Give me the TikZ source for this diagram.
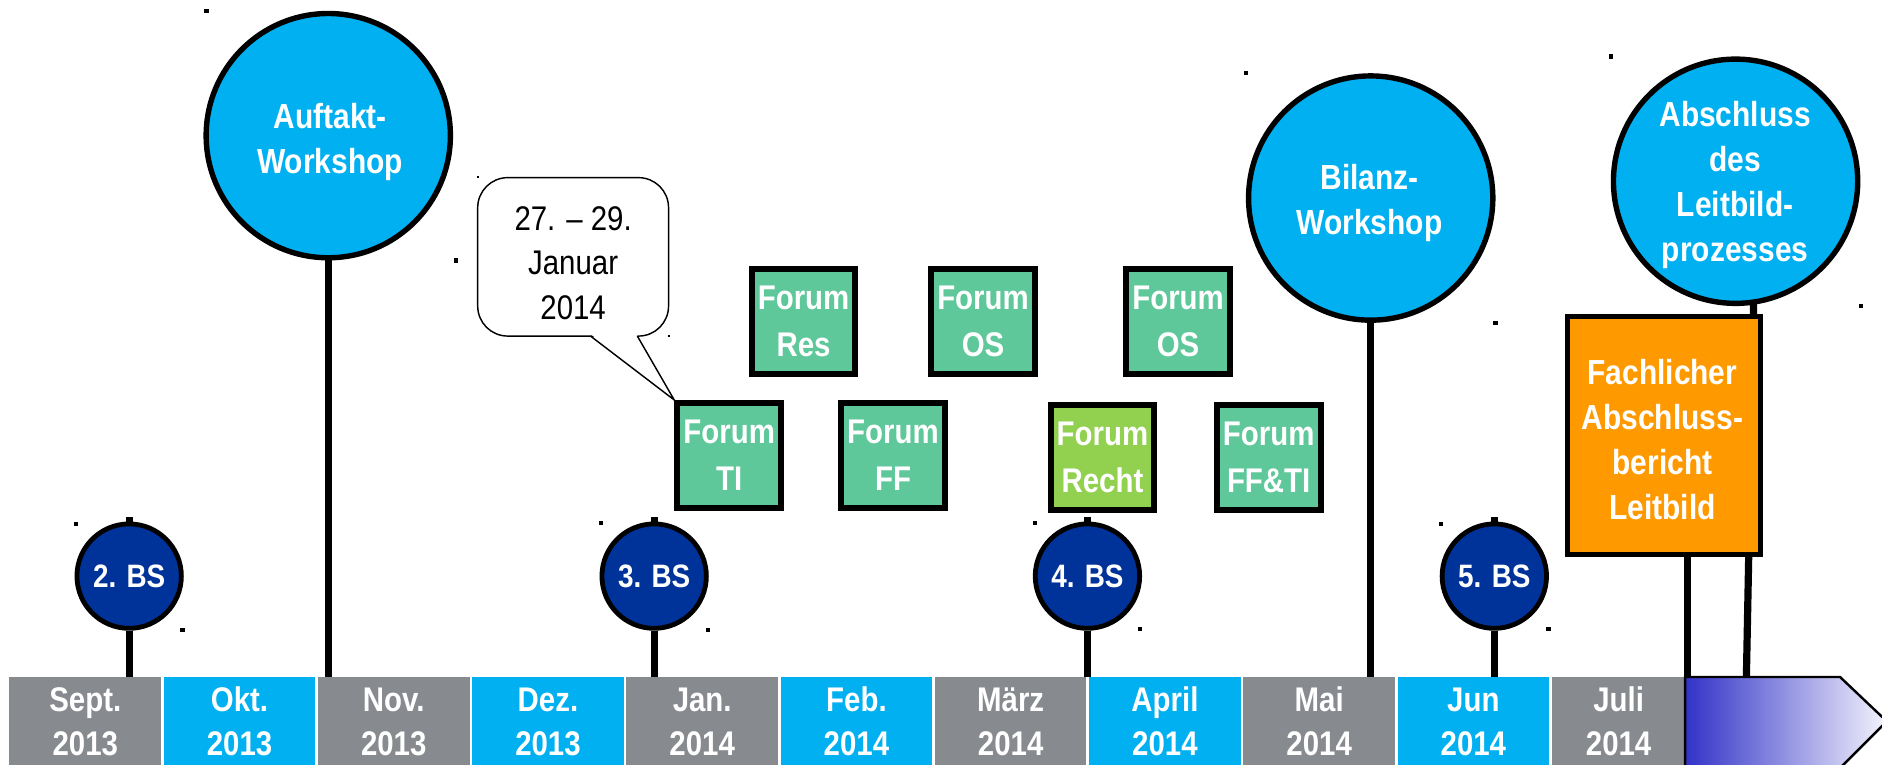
\documentclass[tikz,border=0pt]{standalone}
\usepackage{fontspec}
\setmainfont{Liberation Sans}[FakeStretch=0.86]
\usetikzlibrary{calc}
\definecolor{cyanm}{HTML}{00B0F0}
\definecolor{greym}{HTML}{878A8F}
\definecolor{bsblue}{HTML}{003399}
\definecolor{forumg}{HTML}{5FC89B}
\definecolor{limeg}{HTML}{92D050}
\definecolor{orangeb}{HTML}{FF9900}
\definecolor{arrowl}{RGB}{50,50,200}
\definecolor{arrowr}{RGB}{244,244,253}
\begin{document}
\begin{tikzpicture}[x=1pt,y=-1pt,
  month/.style={rectangle, inner sep=0pt, minimum width=126.3pt, minimum height=74pt, anchor=north west,
    text=white, font=\fontsize{28.5}{36.5}\selectfont\bfseries, align=center},
  bigcirc/.style={circle, draw=black, line width=4.5pt, fill=cyanm, minimum size=203.5pt, inner sep=0pt},
  bscirc/.style={circle, draw=black, line width=4pt, fill=bsblue, minimum size=87pt, inner sep=0pt,
    text=white, font=\fontsize{27}{30}\selectfont\bfseries},
  wtxt/.style={text=white, font=\fontsize{29}{37.5}\selectfont\bfseries, align=center, inner sep=0pt},
  forumbox/.style={rectangle, draw=black, line width=5pt, fill=forumg, minimum width=86.5pt,
    minimum height=87.5pt, inner sep=0pt, text=white, font=\fontsize{28.5}{39}\selectfont\bfseries, align=center},
  stem/.style={line width=6pt, black},
  handle/.style={fill=black},
]
\useasboundingbox (0,0) rectangle (1568,637);
\clip (0,0) rectangle (1568,637);

% month bar
\foreach \i/\n/\a/\b/\c in {0/sep/Sept./2013/greym, 1/okt/Okt./2013/cyanm, 2/nov/Nov./2013/greym,
  3/dez/Dez./2013/cyanm, 4/jan/Jan./2014/greym, 5/feb/Feb./2014/cyanm, 6/mar/März/2014/greym,
  7/apr/April/2014/cyanm, 8/mai/Mai/2014/greym, 9/jun/Jun/2014/cyanm}
  \node[month, fill=\c] (\n) at ({7.7+128.5*\i},564) {\a\\\b};
\node[month, fill=greym, minimum width=111.3pt] (juli) at (1292.7,564) {Juli\\2014};

% circles
\node[bigcirc] (auftakt) at (273.5,113) {};
\node[wtxt] (auftakttxt) at (275,118.5) {Auftakt-\\Workshop};
\node[bigcirc] (bilanz) at (1142,165) {};
\node[wtxt] (bilanztxt) at (1141,169.5) {Bilanz-\\Workshop};
\node[bigcirc] (abschl) at (1446,151) {};
\node[wtxt] (abschltxt) at (1445.6,154.5) {Abschluss\\des\\Leitbild-\\prozesses};

\node[bscirc] (bs2) at (107.6,480) {2. BS};
\node[bscirc] (bs3) at (545,480) {3. BS};
\node[bscirc] (bs4) at (906,480) {4. BS};
\node[bscirc] (bs5) at (1245,480) {5. BS};

% stems
\draw[stem] (bs2.south) -- (bs2.south |- sep.north);
\draw[stem] (bs2.north) -- ++(0,-4);
\draw[stem] (bs3.south) -- (bs3.south |- jan.north);
\draw[stem] (bs3.north) -- ++(0,-4);
\draw[stem] (bs4.south) -- (bs4.south |- mar.north);
\draw[stem] (bs4.north) -- ++(0,-4);
\draw[stem] (bs5.south) -- (bs5.south |- jun.north);
\draw[stem] (bs5.north) -- ++(0,-4);
\draw[stem] (auftakt.south) -- (auftakt.south |- nov.north);
\draw[stem] (bilanz.south) -- (bilanz.south |- mai.north);
\coordinate (afoot) at (1461,253);
\coordinate (aend) at (1455,564);
\draw[stem] (afoot) -- (aend);

% orange box
\node[rectangle, draw=black, line width=4pt, fill=orangeb, minimum width=161pt, minimum height=198pt, inner sep=0pt]
  (orange) at (1386.5,363) {};
\node[wtxt] (orangetxt) at (1385,366.5) {Fachlicher\\Abschluss-\\bericht\\Leitbild};
\coordinate (ofoot) at ($(orange.south)+(19.5,0)$);
\draw[stem] (ofoot) -- (ofoot |- juli.north);

% forum boxes
\node[forumbox] (res) at (669.5,268) {Forum\\Res};
\node[forumbox] (os1) at (819,268) {Forum\\OS};
\node[forumbox] (os2) at (981.5,268) {Forum\\OS};
\node[forumbox] (ti) at (607.5,379.5) {Forum\\TI};
\node[forumbox] (ff) at (744,379.5) {Forum\\FF};
\node[forumbox, fill=limeg] (recht) at (918.5,381) {Forum\\Recht};
\node[forumbox] (ffti) at (1057,381) {Forum\\FF\&TI};

% callout
\node[rectangle, draw=black, rounded corners=25pt, fill=white, line width=1.2pt, minimum width=159pt,
  minimum height=132pt, inner sep=0pt] (callout) at (477.5,214) {};
\node[font=\fontsize{28.5}{37}\selectfont, align=center, inner sep=0pt] (calltxt) at (477.5,219)
  {27. – 29.\\Januar\\2014};
\fill[white] (492.5,278.7) -- (ti.north west) -- (530.5,278.7) -- cycle;
\draw[line width=1.2pt, line join=miter] (492,280) -- (ti.north west) -- (531,280);

% arrow
\coordinate (arrtop) at (1404,564);
\shade[left color=arrowl, right color=arrowr] (arrtop) -- (1533,564) -- (1572,601) -- (1533,640) -- (1404,640) -- cycle;
\draw[line width=2pt, line join=miter] (arrtop) -- (1533,564) -- (1572,601) -- (1533,640) -- (1404,640) -- cycle;

% selection handles
\foreach \p in {(172,9),(380,217),(63.5,436.5),(152,525),(501,436),(590,525),(862.5,435.5),(950,524),
  (1200.5,436.5),(1290,524),(1038,61),(1246,269),(1342,47),(1550.5,255)}
  \fill[handle] \p ++(-1.8,-1.8) rectangle ++(3.6,3.6);
\foreach \p in {(398.5,147.5),(557.5,280)}
  \fill[handle] \p ++(-0.7,-0.7) rectangle ++(1.4,1.4);
\end{tikzpicture}
\end{document}
